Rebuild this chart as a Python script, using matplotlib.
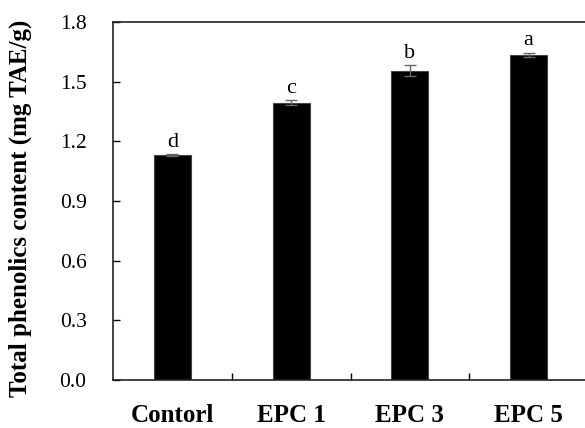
import matplotlib
matplotlib.use("Agg")
import matplotlib.pyplot as plt
from matplotlib.ticker import FixedLocator

categories = ["Contorl", "EPC 1", "EPC 3", "EPC 5"]
values = [1.13, 1.395, 1.555, 1.635]
errors = [0.005, 0.013, 0.028, 0.01]
letters = ["d", "c", "b", "a"]
yticks = [0.0, 0.3, 0.6, 0.9, 1.2, 1.5, 1.8]

plt.rcParams["font.family"] = ["Liberation Serif", "DejaVu Serif"]

fig = plt.figure(figsize=(5.85, 4.28), dpi=100)
ax = fig.add_axes([113/585, 1-380/428, 475/585, (380-22)/428])

x = list(range(len(categories)))
ax.bar(x, values, width=0.31, color="black", edgecolor="#444444", linewidth=0.8, zorder=2)
ax.errorbar(x, values, yerr=errors, fmt="none", ecolor="#666666", elinewidth=1.0,
            capsize=4, capthick=1.0, zorder=3)
for xi, v, e, l in zip(x, values, errors, letters):
    ax.text(xi, v + e + 0.012, l, ha="center", va="bottom", fontsize=16)

ax.set_xlim(-0.5, 3.5)
ax.set_ylim(0, 1.8)
ax.set_yticks(yticks)
ax.set_yticklabels([f"{t:.1f}" for t in yticks], fontsize=15.5)
ax.set_xticks(x)
ax.set_xticklabels(categories, fontsize=18, fontweight="bold")
ax.xaxis.set_minor_locator(FixedLocator([0.5, 1.5, 2.5]))
ax.tick_params(axis="x", which="major", length=0, pad=17)
ax.tick_params(axis="x", which="minor", direction="in", length=5, width=1)
ax.tick_params(axis="y", direction="in", length=5, width=1, pad=19)
ax.spines["right"].set_visible(False)
for s in ["left", "bottom", "top"]:
    ax.spines[s].set_linewidth(1.2)
    ax.spines[s].set_color("#222222")
fig.text(20/585, 1-208/428, "Total phenolics content (mg TAE/g)", rotation=90,
         ha="center", va="center", fontsize=18, fontweight="bold")

fig.savefig("out.png", dpi=100)
